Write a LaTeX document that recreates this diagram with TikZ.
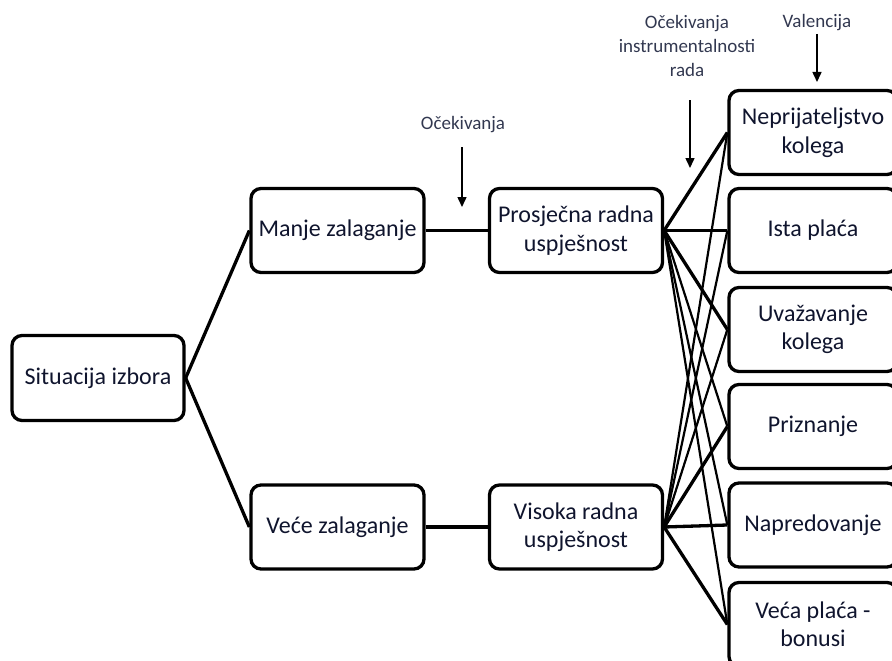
\documentclass[tikz,border=0pt]{standalone}
\usepackage{fontspec}
\setmainfont{Carlito}
\usetikzlibrary{arrows.meta}
\definecolor{txt}{RGB}{15,20,45}
\definecolor{lbl}{RGB}{50,56,80}
\begin{document}
\begin{tikzpicture}[x=1pt,y=-1pt,
  box/.style={draw=black,line width=3.3pt,rounded corners=10pt,align=center,
    text=txt,font=\fontsize{24}{28.5}\selectfont,inner sep=0pt},
  lbox/.style={box,minimum width=173pt,minimum height=84pt},
  rbox/.style={box,minimum width=168pt,minimum height=84pt},
  lab/.style={align=center,text=lbl,font=\fontsize{19}{24}\selectfont,inner sep=0pt},
  thick line/.style={line width=3.3pt},
  thin line/.style={line width=2.2pt},
  pointer/.style={line width=1.5pt,-{Triangle[width=9pt,length=10pt]}}]
\useasboundingbox (0,0) rectangle (892,661);
% main nodes
\node[box,minimum width=172pt,minimum height=85pt] (sit) at (98,378) {Situacija izbora};
\node[lbox] (manje) at (337.5,230.5) {Manje zalaganje};
\node[lbox] (vece) at (337.5,527) {Veće zalaganje};
\node[lbox] (prosj) at (576,230.5) {Prosječna radna\\uspješnost};
\node[lbox] (vis) at (576,527) {Visoka radna\\uspješnost};
% right column
\node[rbox] (r1) at (813,132.5) {Neprijateljstvo\\kolega};
\node[rbox] (r2) at (813,230.5) {Ista plaća};
\node[rbox] (r3) at (813,329.5) {Uvažavanje\\kolega};
\node[rbox] (r4) at (813,426.5) {Priznanje};
\node[rbox] (r5) at (813,525) {Napredovanje};
\node[rbox] (r6) at (813,624.5) {Veća plaća -\\bonusi};
% labels
\node[lab] (l1) at (463,125) {Očekivanja};
\node[lab] (l2) at (687,46) {Očekivanja\\instrumentalnosti\\rada};
\node[lab] (l3) at (817,23) {Valencija};
\coordinate (a1s) at (462,147); \coordinate (a1e) at (462,207);
\coordinate (a2s) at (690,100); \coordinate (a2e) at (690,168);
\coordinate (a3s) at (817,34);  \coordinate (a3e) at (817,82);
\draw[pointer] (a1s) -- (a1e);
\draw[pointer] (a2s) -- (a2e);
\draw[pointer] (a3s) -- (a3e);
% connectors
\draw[thick line] (sit.east) -- (manje.west);
\draw[thick line] (sit.east) -- (vece.west);
\draw[thick line] (manje.east) -- (prosj.west);
\draw[thick line] (vece.east) -- (vis.west);
\draw[thick line] (prosj.east) -- (r1.west);
\draw[thick line] (prosj.east) -- (r2.west);
\draw[thick line] (prosj.east) -- (r3.west);
\draw[thin line] (prosj.east) -- (r4.west);
\draw[thin line] (prosj.east) -- (r5.west);
\draw[thin line] (prosj.east) -- (r6.west);
\draw[thin line] (vis.east) -- (r1.west);
\draw[thin line] (vis.east) -- (r2.west);
\draw[thin line] (vis.east) -- (r3.west);
\draw[thick line] (vis.east) -- (r4.west);
\draw[thick line] (vis.east) -- (r5.west);
\draw[thick line] (vis.east) -- (r6.west);
\end{tikzpicture}
\end{document}
